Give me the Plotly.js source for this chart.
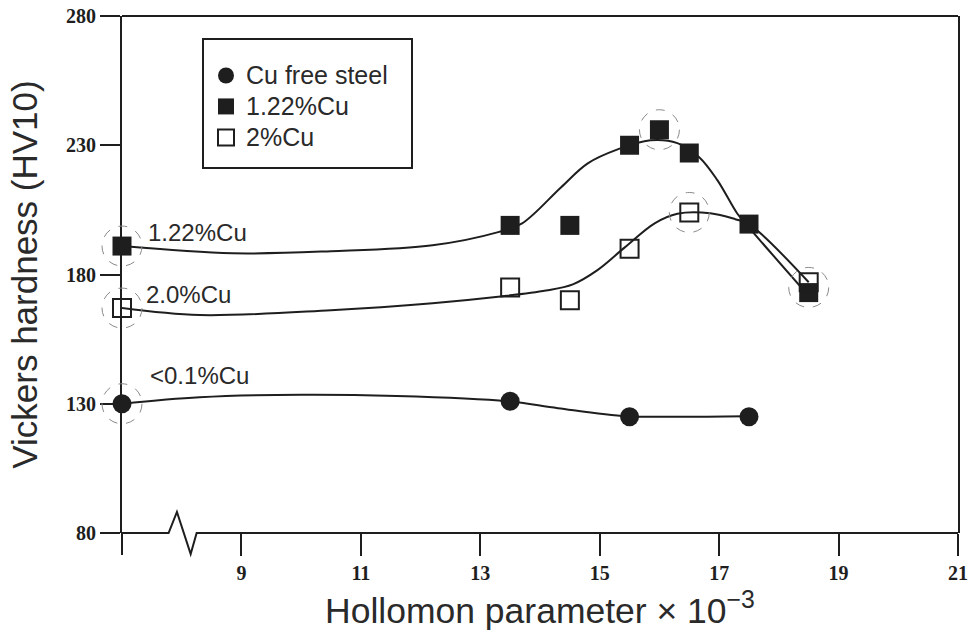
<!DOCTYPE html>
<html><head><meta charset="utf-8">
<script src="https://cdn.plot.ly/plotly-3.0.1.min.js"></script>
<style>html,body{margin:0;padding:0;background:#fff}</style>
</head><body><div id="chart" style="width:971px;height:632px"></div>
<script>
// ---- data ----
const tickValsX = [9, 11, 13, 15, 17, 19, 21];
const tickTextX = ['9', '11', '13', '15', '17', '19', '21'];
const tickValsY = [80, 130, 180, 230, 280];
const tickTextY = ['80', '130', '180', '230', '280'];

const seriesNames = ['Cu free steel', '1.22%Cu', '2%Cu'];

const hollomonFree = [7, 13.5, 15.5, 17.5];
const hvFree       = [130, 131, 125, 125];

const hollomon122 = [7, 13.5, 14.5, 15.5, 16, 16.5, 17.5, 18.5];
const hv122       = [191, 199, 199, 230, 236, 227, 199.5, 173];

const hollomon2 = [7, 13.5, 14.5, 15.5, 16.5, 18.5];
const hv2       = [167, 175, 170, 190, 204, 177];

// hand-drawn trend curves
const fitFreeX = [7, 8.3, 10, 11.6, 13.45, 14.3, 15.45, 16.3, 17.45];
const fitFreeY = [130, 132.5, 133.5, 133, 131, 128.3, 125.2, 125, 125.2];

const fit122X = [7, 8.85, 10.5, 12.2, 13.3, 13.7, 14.35, 14.8, 15.3, 15.85, 16.3, 16.67, 16.97, 17.3, 17.45, 18.45];
const fit122Y = [191, 188.2, 189, 191.3, 196.4, 199.8, 213.7, 223, 228.4, 231.9, 230.8, 225.3, 216.5, 203.7, 199.5, 173];

const fit2X = [7, 8.3, 10.5, 12.2, 13.3, 14.1, 14.55, 14.95, 15.42, 15.92, 16.3, 16.85, 17.27, 17.5, 18.5];
const fit2Y = [167, 164.3, 166.2, 168.9, 171.4, 173.8, 176.2, 181.5, 190.5, 199.8, 203.5, 203.7, 201.4, 199.5, 177];

const labelTexts = ['1.22%Cu', '2.0%Cu', '&lt;0.1%Cu'];

// ---- layout helpers ----
const X_RANGE = [7, 21], Y_RANGE = [80, 280];
const W = 971, H = 632, M = {l: 122, r: 13, t: 16, b: 99};
const plotW = W - M.l - M.r, plotH = H - M.t - M.b;
const pxX = x => (x - X_RANGE[0]) / (X_RANGE[1] - X_RANGE[0]);
const pxY = y => (y - Y_RANGE[0]) / (Y_RANGE[1] - Y_RANGE[0]);

const INK = '#1e1e1e';
const TXT = '#2a2a2a';
const SANS = 'Liberation Sans, Arial, sans-serif';
const SERIF = 'Liberation Serif, Times New Roman, serif';
const LEG_TEXT = s => `<span style="font-size:25px">${s}</span>`;

const curve = (x, y) => ({
  x, y, mode: 'lines', type: 'scatter', showlegend: false, hoverinfo: 'skip',
  line: {color: INK, width: 2, shape: 'spline', smoothing: 1}, cliponaxis: false
});

const traces = [
  curve(fitFreeX, fitFreeY),
  curve(fit122X, fit122Y),
  curve(fit2X, fit2Y),
  {x: hollomonFree, y: hvFree, name: LEG_TEXT(seriesNames[0]), mode: 'markers', type: 'scatter', cliponaxis: false,
   legendgroup: 'a', marker: {symbol: 'circle', size: 19, color: INK, line: {width: 0}}},
  {x: hollomon122, y: hv122, name: LEG_TEXT(seriesNames[1]), mode: 'markers', type: 'scatter', cliponaxis: false,
   legendgroup: 'b', marker: {symbol: 'square', size: 19, color: INK, line: {width: 0}}},
  {x: hollomon2, y: hv2, name: LEG_TEXT(seriesNames[2]), mode: 'markers', type: 'scatter', cliponaxis: false,
   legendgroup: 'c', marker: {symbol: 'square-open', size: 18, color: INK, line: {width: 2, color: INK}}}
];

// highlighted points (dashed circles)
const highlights = [
  [hollomon122[0], hv122[0]],
  [hollomon2[0], hv2[0]],
  [hollomonFree[0], hvFree[0]],
  [hollomon122[4], hv122[4]],
  [hollomon2[4], hv2[4]],
  [hollomon122[7], (hv122[7] + hv2[5]) / 2]
];
const R = 20;
const shapes = highlights.map(([x, y]) => ({
  type: 'circle', xref: 'paper', yref: 'paper', layer: 'above',
  x0: pxX(x) - R / plotW, x1: pxX(x) + R / plotW,
  y0: pxY(y) - R / plotH, y1: pxY(y) + R / plotH,
  line: {color: '#8a8a8a', width: 1, dash: 'dash'}
}));

// frame: top line, y-axis extension below origin, bottom line with axis break
shapes.push({type: 'line', xref: 'paper', yref: 'paper', x0: 0, x1: 1, y0: 1, y1: 1,
  line: {color: INK, width: 2}});
shapes.push({type: 'line', xref: 'paper', yref: 'paper', x0: 0, x1: 0, y0: 0, y1: -22 / plotH,
  line: {color: INK, width: 2}});
const bx = [7.78, 7.92, 8.15, 8.25].map(pxX);
const bh = 21 / plotH;
shapes.push({type: 'path', xref: 'paper', yref: 'paper',
  path: `M 0,0 L ${bx[0]},0 L ${bx[1]},${bh} L ${bx[2]},${-bh} L ${bx[3]},0 L 1,0`,
  line: {color: INK, width: 2}});
// legend box
shapes.push({type: 'rect', xref: 'paper', yref: 'paper',
  x0: (203 - M.l) / plotW, x1: (412 - M.l) / plotW,
  y0: (H - M.b - 168) / plotH, y1: (H - M.b - 39) / plotH,
  line: {color: INK, width: 2}, fillcolor: 'rgba(0,0,0,0)'});

const annFont = {family: SANS, size: 24, color: TXT};
const annotations = [
  {x: 7.40, y: 196.4, text: labelTexts[0]},
  {x: 7.37, y: 172.4, text: labelTexts[1]},
  {x: 7.43, y: 141.1, text: labelTexts[2]}
].map(a => Object.assign(a, {xref: 'x', yref: 'y', xanchor: 'left', yanchor: 'middle',
  showarrow: false, font: annFont}));

const layout = {
  width: W, height: H, margin: M,
  paper_bgcolor: '#fff', plot_bgcolor: '#fff',
  showlegend: true,
  legend: {x: (206 - M.l) / plotW, xanchor: 'left', y: (H - M.b - 55) / plotH, yanchor: 'top',
    bgcolor: 'rgba(0,0,0,0)', borderwidth: 0, tracegroupgap: 0,
    font: {family: SANS, size: 21.5, color: TXT}},
  xaxis: {range: X_RANGE, tickvals: tickValsX, ticktext: tickTextX, showgrid: false, zeroline: false,
    showline: false, ticks: 'outside', ticklen: 22, tickwidth: 2, tickcolor: INK,
    tickfont: {family: SERIF, size: 20, weight: 'bold', color: INK},
    title: {text: 'Hollomon parameter × 10<sup>−3</sup>', font: {family: SANS, size: 35.5, color: TXT}, standoff: 15}},
  yaxis: {range: Y_RANGE, tickvals: tickValsY, ticktext: tickTextY, showgrid: false, zeroline: false,
    showline: true, mirror: true, linewidth: 2, linecolor: INK,
    ticks: 'outside', ticklen: 20, tickwidth: 2, tickcolor: INK,
    tickfont: {family: SERIF, size: 20, weight: 'bold', color: INK},
    title: {text: 'Vickers hardness (HV10)', font: {family: SANS, size: 35, color: TXT}, standoff: 18}},
  shapes, annotations
};

Plotly.newPlot('chart', traces, layout, {displayModeBar: false, staticPlot: true});
</script>
</body></html>
